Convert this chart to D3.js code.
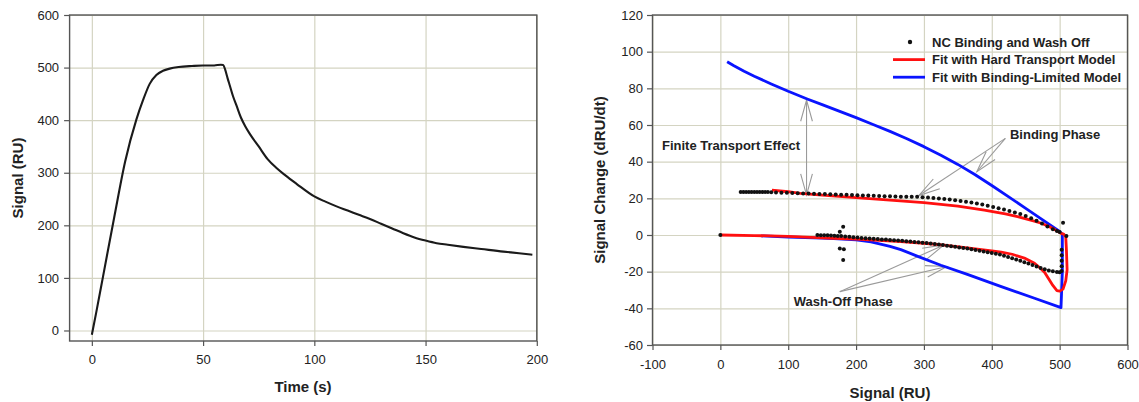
<!DOCTYPE html>
<html>
<head>
<meta charset="utf-8">
<script src="https://cdn.jsdelivr.net/npm/d3@7"></script>
<style>
  body { margin: 0; background: #fff; }
  svg { display: block; font-family: "Liberation Sans", Arial, sans-serif; }
</style>
</head>
<body>
<svg id="chart" width="1139" height="402"></svg>
<script>
// ---- left panel: sensorgram ----
const timeS = [0, 2, 5, 10, 15, 20, 23, 26, 29, 32, 35, 39, 45, 50, 55, 58, 59, 60, 61, 62, 63.5, 65, 67, 69, 71, 75, 79, 83, 87, 92, 100, 105, 110, 115, 120, 125, 130, 135, 140, 145, 150, 155, 160, 167, 175, 185, 192, 198];
const signalRU = [-8, 35, 102, 214, 322, 401, 438, 469, 486, 494, 498, 501, 503, 504, 504, 505.5, 505, 495, 480, 466, 445, 428, 405, 388, 374, 350, 326, 309, 295, 279, 255, 245, 236, 228, 220, 212, 203, 194, 185, 177, 171, 166, 163, 159, 155, 150, 147, 144];
const timeTicks = [0, 50, 100, 150, 200];
const signalTicks = [0, 100, 200, 300, 400, 500, 600];

// ---- right panel: phase plot ----
const bindX = [30, 34, 38, 42, 46, 50, 54, 58, 62, 66, 70, 75, 82, 90, 98, 106, 114, 122, 130, 138, 146, 154, 162, 170, 178, 186, 194, 202, 210, 218, 226, 234, 242, 250, 258, 266, 274, 282, 290, 298, 306, 314, 322, 330, 338, 346, 354, 362, 370, 378, 386, 394, 402, 410, 418, 426, 434, 442, 450, 458, 466, 474, 482, 490, 496, 500];
const bindY = [23.4, 23.4, 23.4, 23.4, 23.4, 23.4, 23.4, 23.4, 23.4, 23.4, 23.4, 23.3, 23.2, 23.1, 23.0, 22.9, 22.8, 22.7, 22.6, 22.5, 22.4, 22.3, 22.2, 22.1, 22.0, 21.9, 21.8, 21.7, 21.6, 21.5, 21.4, 21.3, 21.2, 21.1, 21.0, 20.9, 20.9, 20.8, 20.8, 20.6, 20.4, 20.2, 19.9, 19.6, 19.3, 19.0, 18.6, 18.2, 17.7, 17.2, 16.6, 16.0, 15.3, 14.6, 13.9, 13.1, 12.3, 11.4, 10.4, 9.2, 7.8, 6.3, 4.7, 3.2, 2.2, 1.6];
const washX = [143, 148, 153, 158, 163, 168, 173, 178, 184, 190, 196, 202, 208, 214, 220, 226, 232, 238, 244, 250, 256, 262, 268, 274, 280, 286, 292, 298, 304, 310, 316, 322, 328, 334, 340, 346, 352, 358, 364, 370, 376, 382, 388, 394, 400, 406, 412, 418, 424, 430, 436, 442, 448, 454, 460, 466, 472, 478, 484, 490, 496, 500, 503, 503, 503, 503, 503];
const washY = [0, -0.1, -0.1, -0.2, -0.3, -0.4, -0.5, -0.6, -0.8, -1.0, -1.2, -1.4, -1.6, -1.8, -1.9, -2.1, -2.2, -2.4, -2.5, -2.7, -2.9, -3.0, -3.2, -3.4, -3.6, -3.8, -4.0, -4.2, -4.4, -4.6, -4.9, -5.2, -5.5, -5.8, -6.1, -6.4, -6.8, -7.1, -7.4, -7.8, -8.2, -8.6, -9.0, -9.4, -9.8, -10.2, -10.7, -11.3, -12.0, -12.7, -13.4, -14.1, -14.8, -15.6, -16.4, -17.2, -18.0, -18.7, -19.3, -19.8, -20.2, -20.3, -19.6, -17, -14, -11, -8];
const strayX = [0, 176, 181, 176, 182, 181, 505, 510];
const strayY = [0, 1.8, 4.5, -7.3, -7.8, -13.6, 6.7, -0.5];
const hardFitX = [76, 100, 118, 150, 200, 250, 300, 350, 389, 420, 438, 460, 473, 485, 492, 502, 506, 509, 510, 511, 509, 505, 500, 496, 490, 484, 478, 470, 463, 448, 430, 414, 400, 364, 330, 300, 266, 200, 167, 100, 50, 0];
const hardFitY = [24.5, 23.6, 22.7, 21.7, 20.4, 19.0, 17.7, 15.8, 13.6, 11.5, 10.0, 7.8, 6.4, 4.5, 3.1, 0.9, 0.5, -1, -8, -19, -25, -29.5, -30.6, -30.3, -27.5, -24, -20.5, -17.6, -15.4, -12.6, -10.5, -9.3, -8.6, -7.0, -5.5, -4.5, -3.6, -2.3, -1.8, -0.7, -0.3, 0];
const bindFitX = [10, 20, 35, 50, 75, 100, 128, 150, 175, 200, 225, 250, 275, 300, 325, 350, 375, 400, 425, 450, 475, 500, 504, 504, 502, 463, 413, 364, 325, 290, 266, 250, 222, 200, 167, 150, 100, 60];
const bindFitY = [94.5, 92.3, 89.3, 86.6, 82.4, 78.4, 74.2, 71.1, 67.6, 64.0, 60.3, 56.5, 52.5, 48.2, 43.5, 38.5, 33.0, 27.0, 20.8, 14.5, 8.2, 1.9, 0.5, -20, -39.6, -34.5, -28, -21.5, -16.5, -11.5, -8, -6.2, -3.8, -2.7, -2.0, -1.7, -1.1, -0.5];
const rateXTicks = [-100, 0, 100, 200, 300, 400, 500, 600];
const rateYTicks = [-60, -40, -20, 0, 20, 40, 60, 80, 100, 120];
const legendLabels = ["NC Binding and Wash Off", "Fit with Hard Transport Model", "Fit with Binding-Limited Model"];

const gridColor = "#d4d4c2";
const frameColor = "#555";
const svg = d3.select("#chart");
const plainNum = d => String(d); // hyphen minus, like the original

function panel(x, y, xTicks, yTicks, xPad, yPad) {
  const g = svg.append("g");
  const [x0, x1] = x.range();
  const [y0, y1] = y.range();

  g.append("g")
    .attr("transform", `translate(0,${y0})`)
    .call(d3.axisBottom(x).tickValues(xTicks).tickSize(-(y0 - y1)).tickFormat(""))
    .call(s => { s.select(".domain").remove(); s.selectAll("line").attr("stroke", gridColor).attr("stroke-width", 1.2); });
  g.append("g")
    .attr("transform", `translate(${x0},0)`)
    .call(d3.axisLeft(y).tickValues(yTicks).tickSize(-(x1 - x0)).tickFormat(""))
    .call(s => { s.select(".domain").remove(); s.selectAll("line").attr("stroke", gridColor).attr("stroke-width", 1.2); });

  g.append("rect")
    .attr("x", x0).attr("y", y1)
    .attr("width", x1 - x0).attr("height", y0 - y1)
    .attr("fill", "none").attr("stroke", frameColor).attr("stroke-width", 1.4);

  const styleAxis = s => {
    s.select(".domain").remove();
    s.selectAll("line").attr("stroke", frameColor).attr("stroke-width", 1.2);
    s.selectAll("text").attr("fill", "#222").attr("font-size", 13)
      .attr("font-family", '"Liberation Sans", Arial, sans-serif');
  };
  g.append("g")
    .attr("transform", `translate(0,${y0})`)
    .call(d3.axisBottom(x).tickValues(xTicks).tickFormat(plainNum).tickSize(5).tickPadding(xPad))
    .call(styleAxis);
  g.append("g")
    .attr("transform", `translate(${x0},0)`)
    .call(d3.axisLeft(y).tickValues(yTicks).tickFormat(plainNum).tickSize(5.5).tickPadding(yPad))
    .call(styleAxis);
  return g;
}

function axisTitle(text, cx, cy, rotate) {
  svg.append("text")
    .attr("transform", `translate(${cx},${cy})` + (rotate ? " rotate(-90)" : ""))
    .attr("text-anchor", "middle").attr("dy", "0.35em")
    .attr("font-size", 15).attr("font-weight", "bold").attr("fill", "#222")
    .text(text);
}

// ---- left ----
const xT = d3.scaleLinear().domain([-10, 200]).range([69.6, 536.8]);
const yS = d3.scaleLinear().domain([-20, 600]).range([341, 15]);
const gl = panel(xT, yS, timeTicks, signalTicks, 8.5, 5);
gl.append("path")
  .datum(timeS.map((t, i) => [t, signalRU[i]]))
  .attr("fill", "none").attr("stroke", "#1a1a1a").attr("stroke-width", 2.1)
  .attr("stroke-linejoin", "round")
  .attr("d", d3.line().x(d => xT(d[0])).y(d => yS(d[1])).curve(d3.curveMonotoneX));
axisTitle("Time (s)", 303, 387, false);
axisTitle("Signal (RU)", 18, 178, true);

// ---- right ----
const xR = d3.scaleLinear().domain([-100, 600]).range([652.5, 1127.5]);
const yR = d3.scaleLinear().domain([-60, 120]).range([345, 15]);
const gr = panel(xR, yR, rateXTicks, rateYTicks, 9.5, 4);

// annotation arrows (grey, open heads)
const arrowColor = "#9a9a9a";
function arrowHead(g, fx, fy, tx, ty, len, ang) {
  const a = Math.atan2(ty - fy, tx - fx);
  const p = s => [tx - len * Math.cos(a + s * ang), ty - len * Math.sin(a + s * ang)];
  g.append("path")
    .attr("d", d3.line()([p(1), [tx, ty], p(-1)]))
    .attr("fill", "none").attr("stroke", arrowColor).attr("stroke-width", 1.1);
}
function arrow(g, from, to, both) {
  const [fx, fy] = [xR(from[0]), yR(from[1])];
  const [tx, ty] = [xR(to[0]), yR(to[1])];
  g.append("line").attr("x1", fx).attr("y1", fy).attr("x2", tx).attr("y2", ty)
    .attr("stroke", arrowColor).attr("stroke-width", 1.1);
  arrowHead(g, fx, fy, tx, ty, 22, 0.27);
  if (both) arrowHead(g, tx, ty, fx, fy, 22, 0.27);
}
const ga = gr.append("g");
arrow(ga, [127, 21.8], [127, 73.6], true);
arrow(ga, [420, 52.7], [378, 34.5]);
arrow(ga, [420, 52.7], [292.5, 21.5]);
arrow(ga, [176, -30.9], [329.5, -5.4]);
arrow(ga, [176, -30.9], [334, -17.2]);

const line = d3.line().x(d => xR(d[0])).y(d => yR(d[1]));
gr.append("path")
  .datum(bindFitX.map((v, i) => [v, bindFitY[i]]))
  .attr("fill", "none").attr("stroke", "#0a14ff").attr("stroke-width", 2.8)
  .attr("stroke-linejoin", "round").attr("d", line);
gr.append("path")
  .datum(hardFitX.map((v, i) => [v, hardFitY[i]]))
  .attr("fill", "none").attr("stroke", "#ff1010").attr("stroke-width", 2.8)
  .attr("stroke-linejoin", "round").attr("d", line);

const dots = bindX.map((v, i) => [v, bindY[i]])
  .concat(washX.map((v, i) => [v, washY[i]]))
  .concat(strayX.map((v, i) => [v, strayY[i]]));
gr.append("g").selectAll("circle").data(dots).join("circle")
  .attr("cx", d => xR(d[0])).attr("cy", d => yR(d[1]))
  .attr("r", 2).attr("fill", "#111");

// annotation labels
const note = (text, x, y) => gr.append("text")
  .attr("x", xR(x)).attr("y", yR(y)).attr("dy", "0.35em")
  .attr("font-size", 13).attr("font-weight", "bold").attr("fill", "#222")
  .text(text);
note("Finite Transport Effect", -86, 48.7);
note("Binding Phase", 426.8, 54.6);
note("Wash-Off Phase", 108, -36.5);

// legend
const lg = gr.append("g").attr("transform", "translate(893,42)");
legendLabels.forEach((lab, i) => {
  const row = lg.append("g").attr("transform", `translate(0,${i * 17.6})`);
  if (i === 0) {
    row.append("circle").attr("cx", 17).attr("cy", 0).attr("r", 2.2).attr("fill", "#111");
  } else {
    row.append("line").attr("x1", 0).attr("x2", 32).attr("y1", 0).attr("y2", 0)
      .attr("stroke", i === 1 ? "#ff1010" : "#0a14ff").attr("stroke-width", 2.8);
  }
  row.append("text").attr("x", 39).attr("dy", "0.35em")
    .attr("font-size", 13).attr("font-weight", "bold").attr("fill", "#222")
    .text(lab);
});

axisTitle("Signal (RU)", 890, 393, false);
axisTitle("Signal Change (dRU/dt)", 599.6, 180, true);
</script>
</body>
</html>
